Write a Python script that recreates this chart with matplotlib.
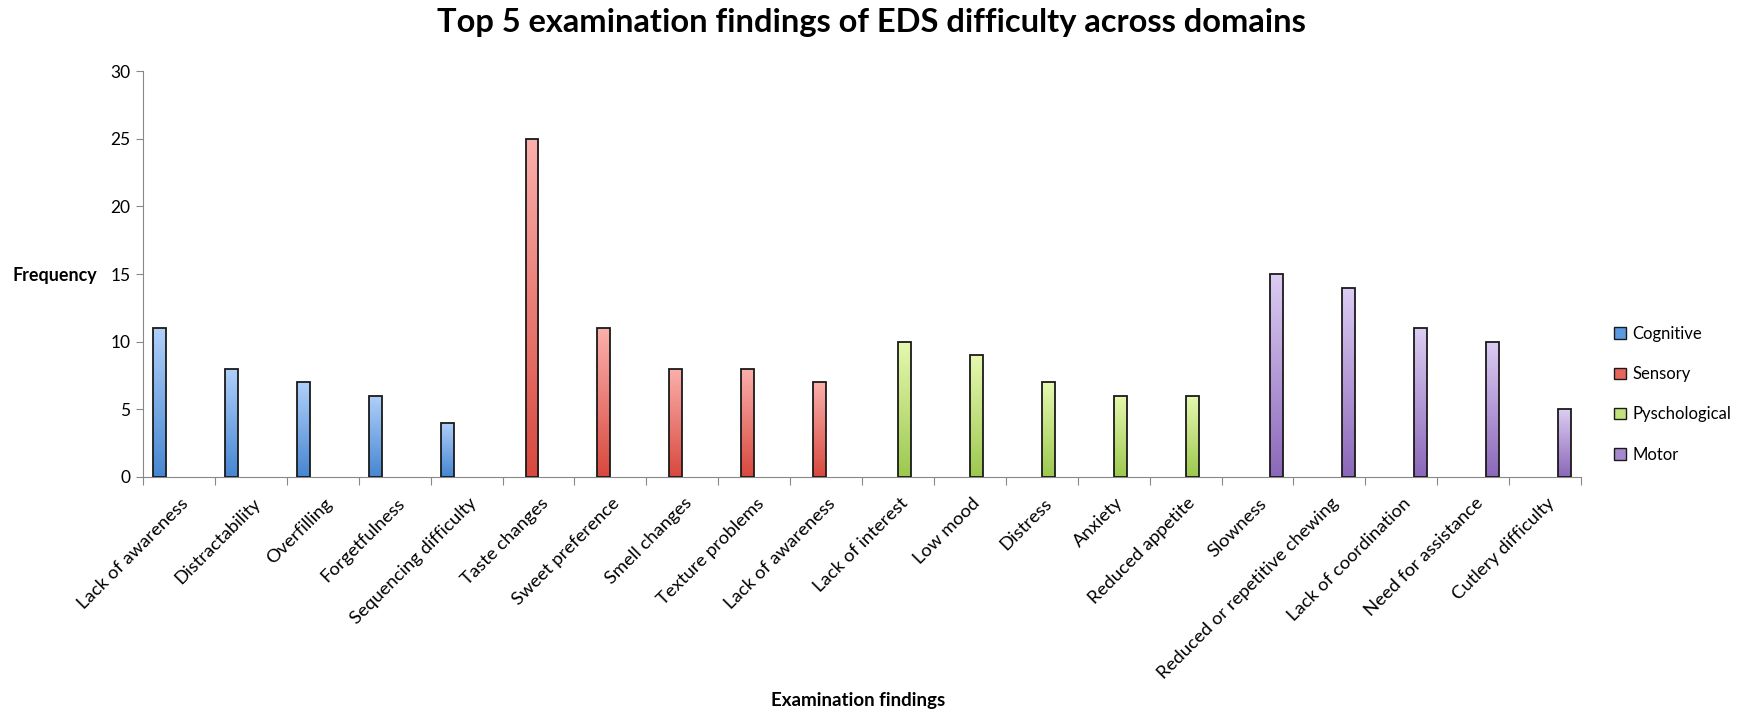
import numpy as np
import matplotlib.pyplot as plt
from matplotlib.patches import Patch
from matplotlib.colors import LinearSegmentedColormap

plt.rcParams['font.family'] = ['Lato', 'DejaVu Sans']

# data
domains = ['Cognitive', 'Sensory', 'Pyschological', 'Motor']
cognitive_labels = ['Lack of awareness', 'Distractability', 'Overfilling',
                    'Forgetfulness', 'Sequencing difficulty']
cognitive_vals = [11, 8, 7, 6, 4]
sensory_labels = ['Taste changes', 'Sweet preference', 'Smell changes',
                  'Texture problems', 'Lack of awareness']
sensory_vals = [25, 11, 8, 8, 7]
psych_labels = ['Lack of interest', 'Low mood', 'Distress', 'Anxiety',
                'Reduced appetite']
psych_vals = [10, 9, 7, 6, 6]
motor_labels = ['Slowness', 'Reduced or repetitive chewing', 'Lack of coordination',
                'Need for assistance', 'Cutlery difficulty']
motor_vals = [15, 14, 11, 10, 5]

# (top colour, bottom colour) per domain
grads = [('#b0d0fa', '#4686d2'),
         ('#fbb0ac', '#d8483e'),
         ('#e6f9b0', '#9cc84e'),
         ('#dccdf3', '#8b67b9')]
legend_cols = ['#5a9ae0', '#e8645c', '#c2e27c', '#a488cc']

groups = [(cognitive_labels, cognitive_vals), (sensory_labels, sensory_vals),
          (psych_labels, psych_vals), (motor_labels, motor_vals)]
labels = sum([g[0] for g in groups], [])

fig = plt.figure(figsize=(17.42, 7.13), dpi=100)
ax = fig.add_axes([0.0821, 0.331, 0.8255, 0.5694])

width = 0.18
offsets = [-0.27, -0.09, 0.09, 0.27]
grad = np.linspace(1, 0, 256).reshape(-1, 1)

pos = 0
for k, (labs, vals) in enumerate(groups):
    cmap = LinearSegmentedColormap.from_list('g%d' % k, [grads[k][1], grads[k][0]])
    xs = np.arange(pos, pos + len(vals)) + offsets[k]
    bars = ax.bar(xs, vals, width, facecolor='none', edgecolor='#1a1a1a',
                  linewidth=1.3, zorder=3)
    for b in bars:
        x0, y0 = b.get_x(), b.get_y()
        im = ax.imshow(grad, cmap=cmap, aspect='auto', zorder=2,
                       extent=[x0, x0 + b.get_width(), y0, y0 + b.get_height()])
        im.set_clip_path(b)
    pos += len(vals)

ax.set_xlim(-0.5, len(labels) - 0.5)
ax.set_ylim(0, 30)
ax.set_yticks(range(0, 31, 5))
ax.tick_params(axis='y', labelsize=12.5, length=5, color='#888888', pad=4)

ax.set_xticks(np.arange(len(labels) + 1) - 0.5)
ax.set_xticklabels([])
ax.tick_params(axis='x', which='major', length=6, color='#888888')
ax.set_xticks(np.arange(len(labels)) + 0.02, minor=True)
ax.set_xticklabels(labels, minor=True, rotation=45, ha='right',
                   rotation_mode='anchor', fontsize=13.3)
ax.tick_params(axis='x', which='minor', length=0, pad=13)

for s in ['top', 'right']:
    ax.spines[s].set_visible(False)
for s in ['left', 'bottom']:
    ax.spines[s].set_color('#888888')

fig.text(0.5, 0.969, 'Top 5 examination findings of EDS difficulty across domains',
         ha='center', va='center', fontsize=23.5, fontweight='bold')
fig.text(0.007, 0.614, 'Frequency', ha='left', va='center', fontsize=12.9,
         fontweight='bold')
fig.text(0.4926, 0.018, 'Examination findings', ha='center', va='center',
         fontsize=13.5, fontweight='bold')

handles = [Patch(facecolor=c, edgecolor='#1a1a1a', linewidth=1) for c in legend_cols]
fig.legend(handles, domains, loc='center left', bbox_to_anchor=(0.918, 0.447),
           frameon=False, fontsize=12, handlelength=0.7, handleheight=0.7,
           handletextpad=0.4, labelspacing=1.45)

fig.savefig('out.png', dpi=100)
